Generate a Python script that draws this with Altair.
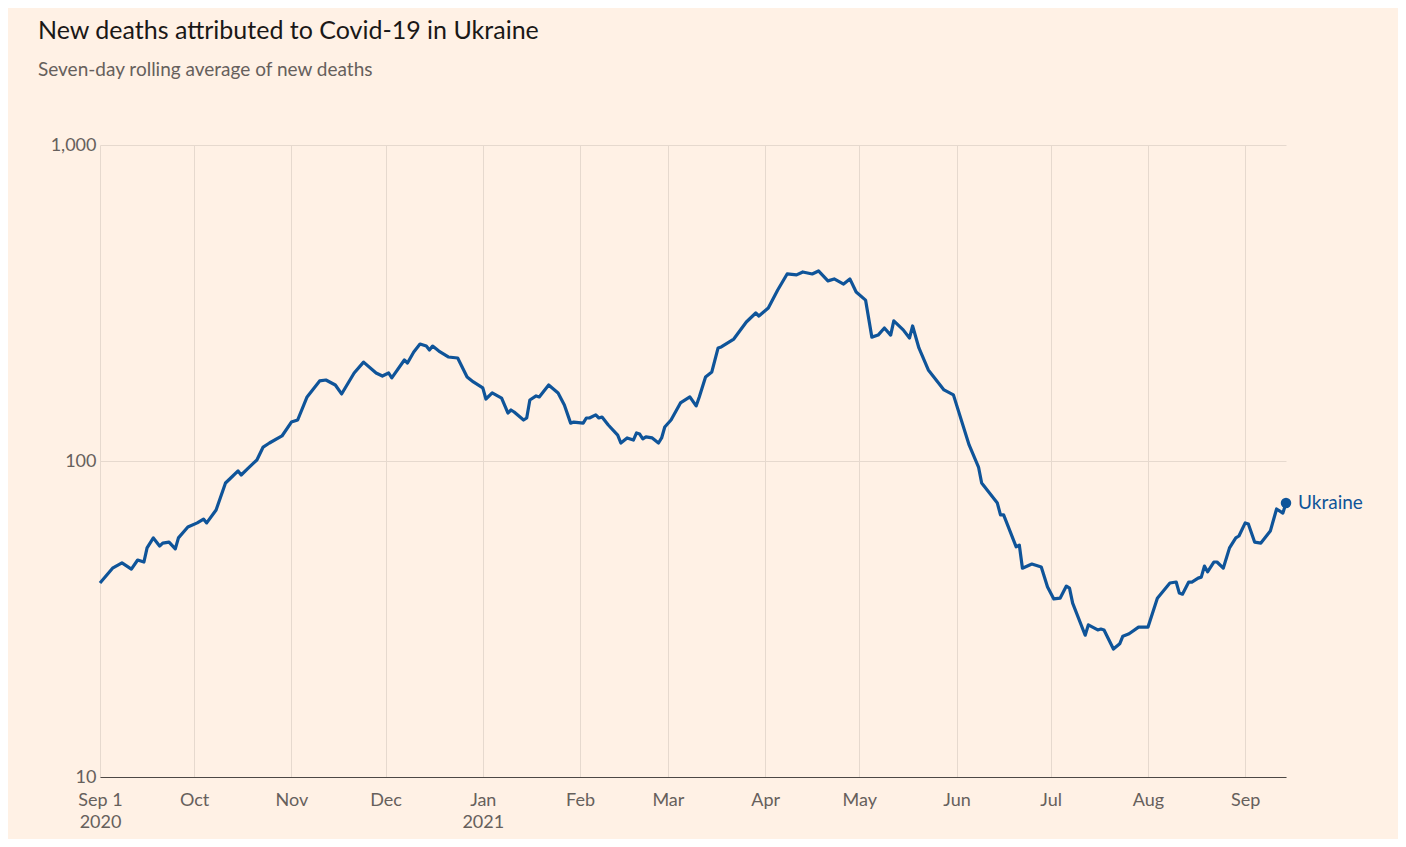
import altair as alt
import pandas as pd

start_date = "2020-09-01"
day_offset = [0, 4, 7, 10, 12, 14, 15, 17, 19, 20, 22, 24, 25, 28, 31, 33, 34, 37, 40, 42,
              44, 45, 47, 49, 50, 52, 54, 58, 61, 63, 66, 70, 72, 75, 77, 81, 84, 88, 90, 92,
              93, 97, 98, 100, 102, 104, 105, 106, 108, 111, 114, 117, 119, 122, 123, 125, 128, 130, 131, 132,
              135, 136, 137, 139, 140, 143, 146, 148, 150, 151, 154, 155, 156, 158, 159, 160, 162, 165, 166, 168,
              170, 171, 172, 173, 174, 176, 178, 179, 180, 182, 185, 188, 190, 191, 193, 195, 197, 198, 202, 206,
              209, 210, 213, 216, 219, 222, 224, 227, 229, 232, 234, 237, 239, 241, 244, 246, 248, 250, 252, 253,
              256, 258, 259, 261, 264, 267, 269, 272, 277, 280, 281, 286, 287, 288, 292, 293, 294, 297, 300, 302,
              304, 306, 308, 309, 310, 314, 315, 318, 319, 320, 323, 325, 326, 328, 331, 334, 337, 341, 343, 344,
              345, 347, 348, 350, 351, 352, 353, 355, 356, 358, 360, 362, 363, 365, 366, 368, 370, 373, 375, 377,
              378]
deaths = [41.1, 45.8, 47.6, 45.5, 48.6, 47.9, 53.1, 57.1, 53.8, 55.0, 55.4, 52.7, 57.1, 61.8, 63.7, 65.5, 63.7, 70.0, 85.2, 89.0,
          93.0, 90.3, 94.4, 98.6, 100.7, 110.7, 114.0, 120.0, 132.8, 134.8, 159.5, 179.2, 180.4, 174.0, 163.0, 189.9, 205.6, 189.9, 185.7, 189.9,
          183.2, 208.7, 204.3, 221.3, 234.4, 231.0, 224.6, 231.0, 222.8, 213.4, 211.8, 184.5, 177.9, 170.3, 157.1, 164.2, 158.2, 141.9, 145.0, 142.9,
          134.8, 136.8, 156.0, 160.7, 159.5, 174.0, 164.2, 150.4, 131.8, 132.8, 131.8, 136.8, 136.8, 139.9, 136.8, 137.8, 130.0, 120.8, 114.0, 118.3,
          116.5, 122.7, 121.7, 117.5, 119.2, 118.3, 114.0, 118.3, 128.1, 134.8, 152.7, 159.5, 149.4, 159.5, 184.5, 191.4, 227.9, 229.6, 243.2, 275.4,
          294.0, 287.6, 304.9, 347.6, 390.8, 388.0, 396.5, 390.8, 399.4, 371.5, 376.9, 363.1, 376.9, 342.5, 323.0, 246.6, 250.3, 263.6, 250.3, 277.5,
          260.0, 245.0, 267.5, 227.9, 194.1, 177.9, 167.9, 161.9, 112.4, 95.7, 85.2, 73.6, 67.5, 67.5, 53.5, 54.2, 45.8, 47.2, 46.2, 39.9,
          36.6, 36.8, 40.2, 39.6, 35.5, 28.1, 30.3, 29.2, 29.4, 29.2, 25.4, 26.4, 27.9, 28.4, 29.8, 29.8, 36.8, 41.1, 41.4, 38.2,
          37.9, 41.4, 41.4, 42.6, 42.9, 46.5, 44.6, 47.9, 47.9, 45.8, 53.1, 57.1, 57.9, 63.7, 63.2, 55.4, 55.0, 60.0, 70.5, 68.4,
          73.6]
series_name = "Ukraine"
y_ticks = [10, 100, 1000]
month_ticks = [(2020, 9), (2020, 10), (2020, 11), (2020, 12), (2021, 1), (2021, 2), (2021, 3),
               (2021, 4), (2021, 5), (2021, 6), (2021, 7), (2021, 8), (2021, 9)]

dates = pd.Timestamp(start_date) + pd.to_timedelta(day_offset, unit="D")
df = pd.DataFrame({"date": dates.strftime("%Y-%m-%dT00:00:00"), "deaths": deaths, "country": series_name})
last = df.iloc[[-1]]

BG = "#FFF1E5"
BLUE = "#0f5499"
GRID = "#e6d9ce"
LABEL = "#66605c"
FONT = "Lato"

x_enc = alt.X("date:T",
              scale=alt.Scale(domain=[alt.DateTime(year=2020, month=9, date=1),
                                      alt.DateTime(year=2021, month=9, date=14)]),
              axis=alt.Axis(values=[alt.DateTime(year=y, month=m, date=1) for y, m in month_ticks],
                            labelExpr="(month(datum.value)==8 && year(datum.value)==2020) ? [timeFormat(datum.value,'%b %-d'), timeFormat(datum.value,'%Y')] : month(datum.value)==0 ? [timeFormat(datum.value,'%b'), timeFormat(datum.value,'%Y')] : timeFormat(datum.value,'%b')",
                            title=None, ticks=False, grid=True, gridColor=GRID, domainColor="#4d4845",
                            labelFontSize=18, labelColor=LABEL, labelFont=FONT, labelPadding=14,
                            labelFlush=False, labelLineHeight=22, labelAngle=0))
y_enc = alt.Y("deaths:Q",
              scale=alt.Scale(type="log", domain=[10, 1000], nice=False),
              axis=alt.Axis(values=y_ticks, format=",", title=None, ticks=False, domain=False,
                            grid=True, gridColor=GRID, labelFontSize=18, labelColor=LABEL,
                            labelFont=FONT, labelPadding=4))

line = alt.Chart(df).mark_line(color=BLUE, strokeWidth=3.2, strokeJoin="round").encode(x=x_enc, y=y_enc)
dot = alt.Chart(last).mark_circle(color=BLUE, size=110, opacity=1).encode(x="date:T", y="deaths:Q")
label = alt.Chart(last).mark_text(align="left", baseline="middle", dx=12, fontSize=19, font=FONT,
                                  color=BLUE).encode(x="date:T", y="deaths:Q", text="country:N")

chart = alt.layer(line, dot, label).properties(
    width=1186, height=632,
    background=BG,
    autosize=alt.AutoSizeParams(type="none"),
    padding={"left": 92, "top": 137, "right": 112, "bottom": 62},
    title=alt.TitleParams(text="New deaths attributed to Covid-19 in Ukraine",
                          subtitle="Seven-day rolling average of new deaths",
                          anchor="start", frame="group", dx=-62, offset=56,
                          font=FONT, fontSize=25, fontWeight="normal", color="#1a1817",
                          subtitleFont=FONT, subtitleFontSize=19, subtitleColor=LABEL,
                          subtitlePadding=17),
).configure_view(stroke=None)

chart.save("out.html", embed_options={"renderer": "svg", "actions": False})
